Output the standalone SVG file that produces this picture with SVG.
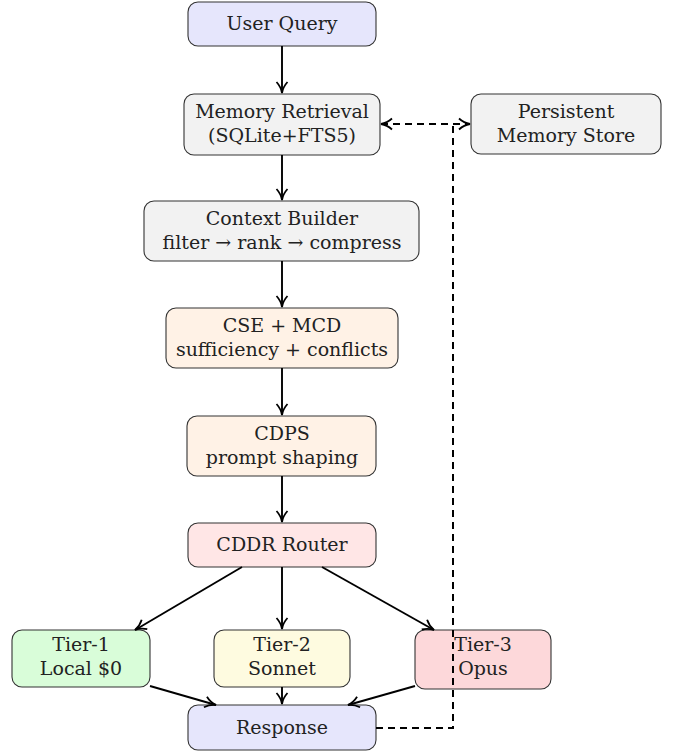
<svg xmlns="http://www.w3.org/2000/svg" width="675" height="753" viewBox="0 0 675 753">
<style>
.box{stroke:#333;stroke-width:1.1}
text{font-family:"DejaVu Serif","Liberation Serif",serif;font-size:19px;fill:#222;text-anchor:middle}
.c{fill:none;stroke:#000;stroke-width:1.9}
.d{fill:none;stroke:#000;stroke-width:2;stroke-dasharray:7,5}
</style>
<defs>
<marker id="ah" viewBox="0 0 14 14" refX="13" refY="7" markerWidth="14" markerHeight="14" markerUnits="userSpaceOnUse" orient="auto-start-reverse">
<path d="M2,1.5 Q7,6 13,7 Q7,8 2,12.5" fill="none" stroke="#000" stroke-width="1.8"/>
</marker>
</defs>
<g id="user-query"><rect class="box" x="188" y="2" width="188" height="44" rx="10" fill="#e6e6fc"/><text x="282" y="30">User Query</text></g>
<g id="memory-retrieval"><rect class="box" x="184" y="94" width="196" height="61" rx="10" fill="#f2f2f2"/><text x="282" y="118">Memory Retrieval</text><text x="282" y="142">(SQLite+FTS5)</text></g>
<g id="persistent-store"><rect class="box" x="471" y="94" width="190" height="60" rx="10" fill="#f2f2f2"/><text x="566" y="118">Persistent</text><text x="566" y="142">Memory Store</text></g>
<g id="context-builder"><rect class="box" x="144" y="201" width="275" height="60" rx="10" fill="#f2f2f2"/><text x="282" y="225">Context Builder</text><text x="282" y="249">filter → rank → compress</text></g>
<g id="cse-mcd"><rect class="box" x="166" y="308" width="232" height="60" rx="10" fill="#fff2e6"/><text x="282" y="332">CSE + MCD</text><text x="282" y="356">sufficiency + conflicts</text></g>
<g id="cdps"><rect class="box" x="187" y="416" width="189" height="60" rx="10" fill="#fff2e6"/><text x="282" y="440">CDPS</text><text x="282" y="464">prompt shaping</text></g>
<g id="cddr-router"><rect class="box" x="188" y="523" width="188" height="44" rx="10" fill="#ffe6e6"/><text x="282" y="551">CDDR Router</text></g>
<g id="tier-1"><rect class="box" x="12" y="630" width="138" height="57" rx="10" fill="#d9fdd9"/><text x="81" y="651">Tier-1</text><text x="81" y="675">Local $0</text></g>
<g id="tier-2"><rect class="box" x="214" y="630" width="136" height="57" rx="10" fill="#fefbe0"/><text x="282" y="651">Tier-2</text><text x="282" y="675">Sonnet</text></g>
<g id="tier-3"><rect class="box" x="415" y="630" width="136" height="59" rx="10" fill="#fdd8da"/><text x="483" y="651">Tier-3</text><text x="483" y="675">Opus</text></g>
<g id="response"><rect class="box" x="188" y="705" width="188" height="45" rx="10" fill="#e6e6fc"/><text x="282" y="734">Response</text></g>
<g id="connectors">
<path class="c" d="M282,46 V93" marker-end="url(#ah)"/>
<path class="c" d="M282,155 V200" marker-end="url(#ah)"/>
<path class="c" d="M282,261 V307" marker-end="url(#ah)"/>
<path class="c" d="M282,368 V415" marker-end="url(#ah)"/>
<path class="c" d="M282,476 V522" marker-end="url(#ah)"/>
<path class="c" d="M242,567 L135,630" marker-end="url(#ah)"/>
<path class="c" d="M282,567 V629" marker-end="url(#ah)"/>
<path class="c" d="M322,567 L434,630" marker-end="url(#ah)"/>
<path class="c" d="M150,686 L216,705" marker-end="url(#ah)"/>
<path class="c" d="M282,687 V704" marker-end="url(#ah)"/>
<path class="c" d="M415,686 L348,705" marker-end="url(#ah)"/>
<path class="d" d="M381,124 H470" marker-start="url(#ah)" marker-end="url(#ah)"/>
<path class="d" d="M376,728 H453 V124"/>
</g>
</svg>
